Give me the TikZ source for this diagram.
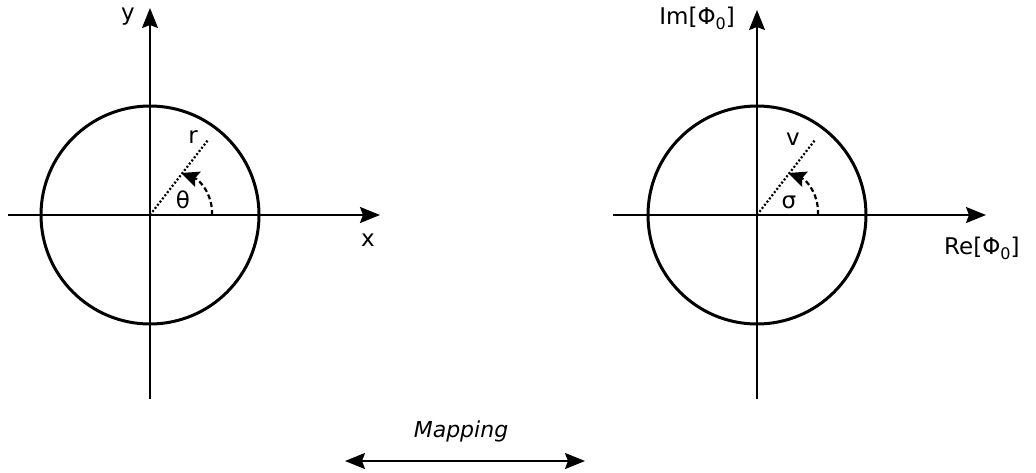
\documentclass[tikz,border=0pt]{standalone}
\usepackage{fontspec}
\setmainfont{DejaVu Sans}
\usetikzlibrary{arrows.meta}
\tikzset{
  axis/.style={line width=2pt,-{Stealth[length=20pt,width=16pt,inset=3pt]}},
  ring/.style={line width=3pt},
  radius line/.style={line width=2.2pt,dash pattern=on 2pt off 2pt},
  angle arc/.style={line width=2.2pt,dash pattern=on 5pt off 3pt,-{Stealth[length=18pt,width=16pt,inset=3pt]}},
  map/.style={line width=2pt,{Stealth[length=20pt,width=16pt,inset=3pt]}-{Stealth[length=20pt,width=16pt,inset=3pt]}},
  lbl/.style={inner sep=0pt,font=\fontsize{23}{23}\selectfont},
  maplbl/.style={inner sep=0pt,font=\fontsize{22}{22}\selectfont\itshape},
}
\newcommand{\phiz}{Φ\raisebox{-0.4ex}{\fontsize{16}{16}\selectfont 0}}
\begin{document}
\begin{tikzpicture}[x=1pt,y=-1pt]
\useasboundingbox (0,0) rectangle (1036,472);
% left panel
\coordinate (O1) at (150,215);
\coordinate (xl) at (8,215);
\coordinate (xr) at (380,215);
\coordinate (yb) at (150,399);
\coordinate (yt) at (150,8);
\coordinate (r1) at (208,140);
\coordinate (a1s) at (212,215);
\coordinate (a1e) at (181,173);
\draw[axis] (xl) -- (xr);
\draw[axis] (yb) -- (yt);
\draw[ring] (O1) circle[radius=109];
\draw[radius line] (O1) -- (r1);
\draw[angle arc] (a1s) .. controls (213,195) and (200,180) .. (a1e);
\node[lbl] (ylab) at (128,17) {y};
\node[lbl] (xlab) at (368,240) {x};
\node[lbl] (rlab) at (193,137) {r};
\node[lbl] (tlab) at (183,200) {θ};
% right panel
\coordinate (O2) at (757,215);
\coordinate (Xl) at (613,215);
\coordinate (Xr) at (986,215);
\coordinate (Yb) at (757,399);
\coordinate (Yt) at (757,10);
\coordinate (r2) at (815,140);
\coordinate (a2s) at (818,215);
\coordinate (a2e) at (788,173);
\draw[axis] (Xl) -- (Xr);
\draw[axis] (Yb) -- (Yt);
\draw[ring] (O2) circle[radius=109];
\draw[radius line] (O2) -- (r2);
\draw[angle arc] (a2s) .. controls (819,195) and (807,180) .. (a2e);
\node[lbl,anchor=east] (Imlab) at (735,18) {Im[\phiz]};
\node[lbl,anchor=west] (Relab) at (944,248) {Re[\phiz]};
\node[lbl] (vlab) at (793,139) {v};
\node[lbl] (slab) at (789,202) {σ};
% mapping
\coordinate (ml) at (345,461);
\coordinate (mr) at (585,461);
\draw[map] (ml) -- (mr);
\node[maplbl] (maplab) at (461,431) {Mapping};
\end{tikzpicture}
\end{document}
